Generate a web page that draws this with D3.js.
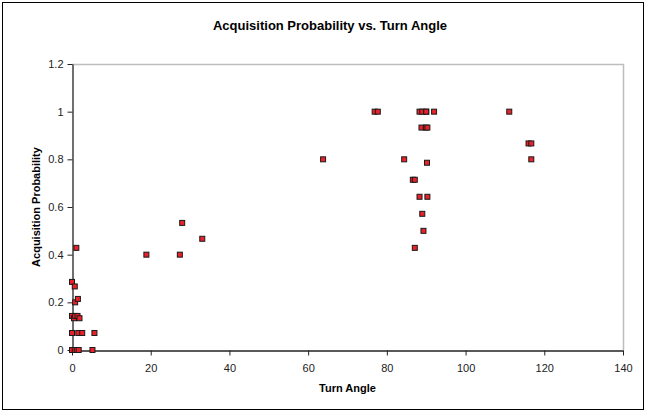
<!DOCTYPE html>
<html>
<head>
<meta charset="utf-8">
<script src="https://cdn.jsdelivr.net/npm/d3@7"></script>
<style>
  body { margin: 0; background: #fff; }
  text { font-family: "Liberation Sans", Arial, sans-serif; }
</style>
</head>
<body>
<div id="vis"></div>
<script>
// turn angle (deg) and acquisition probability
const turnAngle = [
  0, 0.7, 1.2, 1.7, 5.2,
  0, 1.6, 2.6, 5.7,
  0, 0.5, 0.8, 1.4, 1.9,
  0.8, 1.5, 0, 0.7, 1.1,
  18.9, 27.4, 28.0, 33.1, 63.8,
  76.9, 77.7, 84.4, 86.6, 87.1, 87.1,
  88.3, 88.3, 88.8, 89.0, 89.0, 89.3, 89.9, 90.0, 90.0, 90.2, 90.3, 90.3, 92.0,
  111.1, 116.0, 116.7, 116.7
];
const acqProb = [
  0, 0, 0, 0, 0,
  0.0714, 0.0714, 0.0714, 0.0714,
  0.1429, 0.1333, 0.1429, 0.1429, 0.1333,
  0.2, 0.2143, 0.2857, 0.2667, 0.4286,
  0.4, 0.4, 0.5333, 0.4667, 0.8,
  1, 1, 0.8, 0.7143, 0.7143, 0.4286,
  0.6429, 1, 0.9333, 0.5714, 1, 0.5, 0.9333, 1, 1, 0.7857, 0.6429, 0.9333, 1,
  1, 0.8667, 0.8667, 0.8
];
const xTicks = [0, 20, 40, 60, 80, 100, 120, 140];
const yTicks = [0, 0.2, 0.4, 0.6, 0.8, 1, 1.2];

const W = 646, H = 412;
const plot = { left: 72, right: 623, top: 64, bottom: 350 };

const svg = d3.select('#vis')
    .append('svg')
    .attr('width', W)
    .attr('height', H);

// outer chart border
svg.append('rect')
    .attr('x', 2.5).attr('y', 2.5)
    .attr('width', W - 5).attr('height', H - 5)
    .attr('fill', '#fff')
    .attr('stroke', '#000')
    .attr('stroke-width', 1);

const x = d3.scaleLinear().domain([0, 140]).range([plot.left, plot.right]);
const y = d3.scaleLinear().domain([0, 1.2]).range([plot.bottom, plot.top]);

// plot area frame (top/right in gray)
svg.append('path')
    .attr('d', `M${plot.left},${plot.top + 0.5}H${plot.right + 0.5}V${plot.bottom}`)
    .attr('fill', 'none')
    .attr('stroke', '#bdbdbd')
    .attr('stroke-width', 1.5);

const xAxis = svg.append('g')
    .attr('transform', `translate(0,${plot.bottom + 0.5})`)
    .call(d3.axisBottom(x).tickValues(xTicks).tickSize(5).tickSizeOuter(0).tickFormat(d3.format('d')));

const yAxis = svg.append('g')
    .attr('transform', `translate(${plot.left + 0.5},0)`)
    .call(d3.axisLeft(y).tickValues(yTicks).tickSize(5).tickSizeOuter(0).tickFormat(d => d));

[xAxis, yAxis].forEach(g => {
    g.select('.domain').attr('stroke', '#222').attr('stroke-width', 1.3);
    g.selectAll('.tick line').attr('stroke', '#222');
    g.selectAll('.tick text')
        .attr('fill', '#222')
        .style('font-size', '11px')
        .style('font-family', '"Liberation Sans", Arial, sans-serif');
});
xAxis.selectAll('.tick text').attr('dy', '1.2em');
yAxis.selectAll('.tick text').attr('x', -9);

// markers
const pts = turnAngle.map((a, i) => ({ a: a, p: acqProb[i] }));
svg.append('g')
    .selectAll('rect')
    .data(pts)
    .enter()
    .append('rect')
    .attr('x', d => x(d.a) - 2.5)
    .attr('y', d => y(d.p) - 2.5)
    .attr('width', 5)
    .attr('height', 5)
    .attr('fill', '#e8222a')
    .attr('stroke', '#1a1a1a')
    .attr('stroke-width', 1);

// title and axis labels
svg.append('text')
    .attr('x', 330)
    .attr('y', 30)
    .attr('text-anchor', 'middle')
    .style('font-size', '13px')
    .style('font-weight', 'bold')
    .text('Acquisition Probability vs. Turn Angle');

svg.append('text')
    .attr('x', (plot.left + plot.right) / 2)
    .attr('y', 392)
    .attr('text-anchor', 'middle')
    .style('font-size', '11px')
    .style('font-weight', 'bold')
    .text('Turn Angle');

svg.append('text')
    .attr('transform', 'rotate(-90)')
    .attr('x', -(plot.top + plot.bottom) / 2)
    .attr('y', 40)
    .attr('text-anchor', 'middle')
    .style('font-size', '11px')
    .style('font-weight', 'bold')
    .text('Acquisition Probability');
</script>
</body>
</html>
